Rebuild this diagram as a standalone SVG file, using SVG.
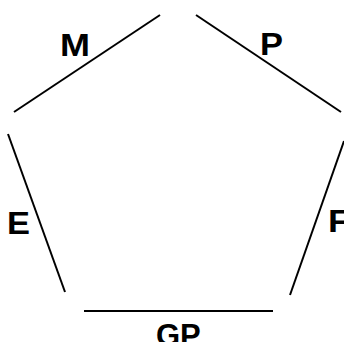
<svg xmlns="http://www.w3.org/2000/svg" width="344" height="342" viewBox="0 0 344 342">
<style>
.edge{stroke:#000;stroke-width:2;fill:none}
.lbl{font-family:"Liberation Sans",Arial,sans-serif;font-weight:bold;font-size:31px;fill:#000}
</style>
<rect width="344" height="342" fill="#fff"/>
<g id="connectors">
<line class="edge" x1="160" y1="15" x2="14" y2="112"/>
<line class="edge" x1="196" y1="15" x2="341" y2="112"/>
<line class="edge" x1="8" y1="134" x2="65" y2="292"/>
<line class="edge" x1="344" y1="141" x2="290" y2="295"/>
<line class="edge" x1="84" y1="311" x2="273" y2="311"/>
</g>
<g id="label-M"><text class="lbl" x="60" y="56" textLength="30" lengthAdjust="spacingAndGlyphs">M</text></g>
<g id="label-P"><text class="lbl" x="260" y="55" textLength="23" lengthAdjust="spacingAndGlyphs">P</text></g>
<g id="label-E"><text class="lbl" x="7" y="234" textLength="23" lengthAdjust="spacingAndGlyphs">E</text></g>
<g id="label-F"><text class="lbl" x="328" y="232" textLength="22" lengthAdjust="spacingAndGlyphs">F</text></g>
<g id="label-GP"><text class="lbl" x="156" y="346">GP</text></g>
</svg>
